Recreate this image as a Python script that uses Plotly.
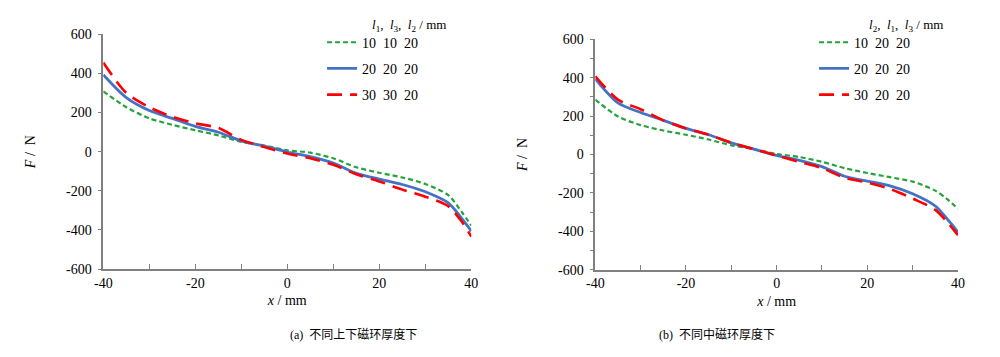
import plotly.graph_objects as go

x = [-40, -35, -30, -25, -20, -15, -10, -5, 0, 5, 10, 15, 20, 25, 30, 35, 38, 40]

# (a) different upper/lower ring thickness
a_green = [308, 227, 170, 137, 109, 83, 50, 31, 7, -5, -34, -80, -108, -132, -165, -222, -311, -377]
a_blue = [393, 276, 210, 170, 129, 99, 55, 28, -2, -26, -59, -111, -140, -168, -205, -262, -344, -406]
a_red = [455, 300, 227, 178, 145, 121, 60, 23, -10, -34, -67, -116, -152, -194, -230, -279, -360, -434]

# (b) different middle ring thickness
b_green = [286, 198, 153, 125, 103, 78, 48, 28, 3, -13, -38, -71, -96, -118, -141, -188, -240, -283]
b_blue = [394, 269, 219, 178, 136, 103, 61, 28, -5, -30, -63, -113, -138, -163, -204, -268, -346, -404]
b_red = [407, 286, 236, 178, 136, 103, 61, 28, -5, -38, -71, -121, -146, -179, -229, -288, -362, -420]

names_a = ["10  10  20", "20  20  20", "30  30  20"]
names_b = ["10  20  20", "20  20  20", "30  20  20"]

x_ticks = [-40, -20, 0, 20, 40]
x_ticktext = ["-40", "-20", "0", "20", "40"]
y_ticks = [-600, -400, -200, 0, 200, 400, 600]
y_ticktext = ["-600", "-400", "-200", "0", "200", "400", "600"]

colors = ["#25A23A", "#4472C4", "#FF0000"]
dashes = ["5px,3px", "solid", "15px,8px"]
widths = [2.2, 2.8, 2.6]

FONT = "'Liberation Serif', 'DejaVu Serif', serif, 'Noto Sans CJK SC'"

fig = go.Figure()
for i, ys in enumerate([a_green, a_blue, a_red]):
    fig.add_trace(go.Scatter(x=x, y=ys, mode="lines", name=names_a[i],
                             line=dict(color=colors[i], dash=dashes[i], width=widths[i], shape="spline", smoothing=0.8),
                             xaxis="x", yaxis="y", legend="legend", legendgroup="a%d" % i))
for i, ys in enumerate([b_green, b_blue, b_red]):
    fig.add_trace(go.Scatter(x=x, y=ys, mode="lines", name=names_b[i],
                             line=dict(color=colors[i], dash=dashes[i], width=widths[i], shape="spline", smoothing=0.8),
                             xaxis="x2", yaxis="y2", legend="legend2", legendgroup="b%d" % i))

axcol = "#808080"
common_x = dict(range=[-40, 40], tickmode="array", tickvals=x_ticks, ticktext=x_ticktext,
                ticks="inside", ticklen=5, tickcolor=axcol,
                showline=True, linecolor=axcol, linewidth=1.5, showgrid=False, zeroline=False,
                minor=dict(dtick=10, tick0=-40, ticks="inside", ticklen=5, tickcolor=axcol, showgrid=False),
                tickfont=dict(family=FONT, size=14, color="black"),
                title=dict(text="<i>x</i> / mm", font=dict(family=FONT, size=14, color="black"), standoff=6))
common_y = dict(range=[-600, 600], tickmode="array", tickvals=y_ticks, ticktext=y_ticktext,
                ticks="outside", ticklen=4, tickcolor=axcol, ticklabelstandoff=3,
                showline=True, linecolor=axcol, linewidth=1.5, showgrid=False, zeroline=False,
                tickfont=dict(family=FONT, size=14, color="black"),
                title=dict(text="<i>F</i> /  N", font=dict(family=FONT, size=14, color="black"), standoff=27))

leg_common = dict(xanchor="left", yanchor="top", bgcolor="rgba(0,0,0,0)",
                  traceorder="grouped", tracegroupgap=5, itemwidth=30,
                  font=dict(family=FONT, size=14, color="black"))

fig.update_layout(
    width=1000, height=357,
    margin=dict(l=0, r=0, t=0, b=0),
    paper_bgcolor="white", plot_bgcolor="white",
    font=dict(family=FONT, size=14, color="black"),
    xaxis=dict(domain=[0.0877, 0.4617], anchor="y", **common_x),
    yaxis=dict(domain=[0.257, 0.944], anchor="x", **common_y),
    xaxis2=dict(domain=[0.5877, 0.9563], anchor="y2", **common_x),
    yaxis2=dict(domain=[0.255, 0.929], anchor="x2", **common_y),
    legend=dict(x=0.310, y=0.966, **leg_common),
    legend2=dict(x=0.810, y=0.966, **leg_common),
    annotations=[
        dict(text="<i>l</i><sub>1</sub>,  <i>l</i><sub>3</sub>,  <i>l</i><sub>2</sub> / mm",
             x=0.398, y=1.0, xref="paper", yref="paper", xanchor="center", yanchor="top",
             showarrow=False, font=dict(family=FONT, size=13, color="black")),
        dict(text="<i>l</i><sub>2</sub>,  <i>l</i><sub>1</sub>,  <i>l</i><sub>3</sub> / mm",
             x=0.903, y=1.0, xref="paper", yref="paper", xanchor="center", yanchor="top",
             showarrow=False, font=dict(family=FONT, size=13, color="black")),
        dict(text="(a)  不同上下磁环厚度下", x=0.275, y=1 - 334 / 357, xref="paper", yref="paper",
             yanchor="middle", showarrow=False, font=dict(family=FONT, size=12, color="black")),
        dict(text="(b)  不同中磁环厚度下", x=0.772, y=1 - 334 / 357, xref="paper", yref="paper",
             yanchor="middle", showarrow=False, font=dict(family=FONT, size=12, color="black")),
    ],
)

fig.update_layout(yaxis2=dict(minor=dict(dtick=100, tick0=-600, ticks="outside", ticklen=4,
                                         tickcolor=axcol, showgrid=False)))

fig.write_html("out.html")
